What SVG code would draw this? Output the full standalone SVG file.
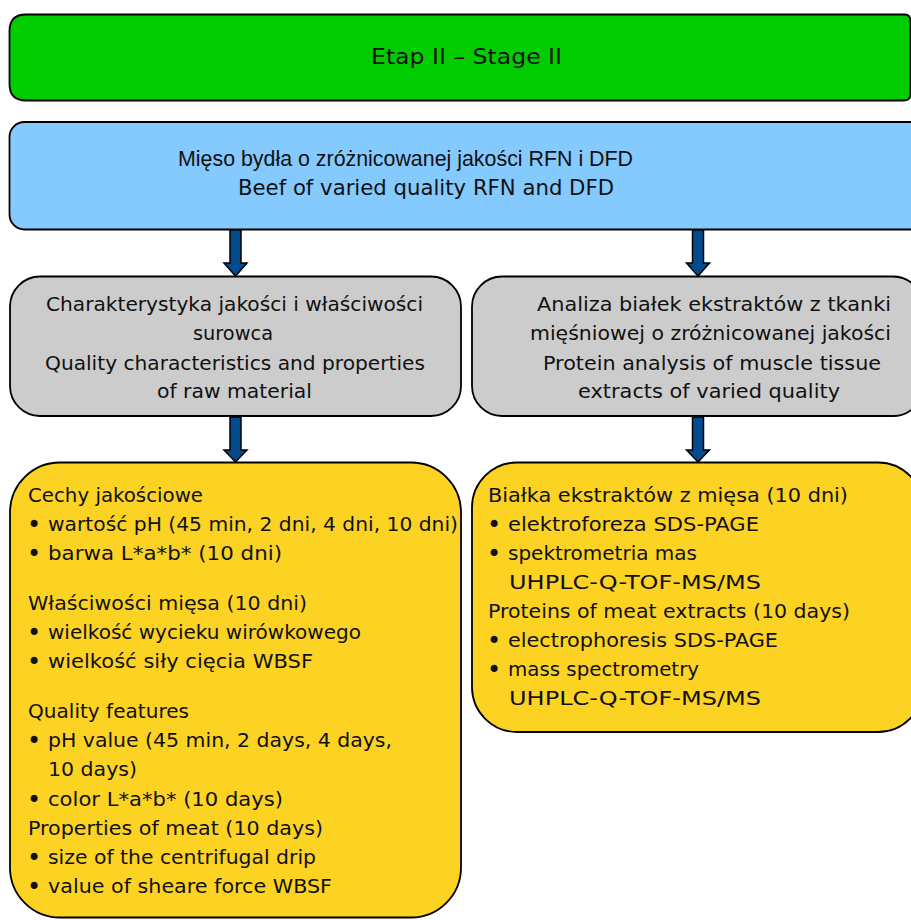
<svg xmlns="http://www.w3.org/2000/svg" width="911" height="920" viewBox="0 0 911 920">
<style>
.box{stroke:#000;stroke-width:1.8}
.green{fill:#00CC00}
.blue{fill:#84CAFE}
.gray{fill:#CCCCCC}
.yellow{fill:#FCD323}
.arrow{fill:#034B8C;stroke:#000;stroke-width:1.5;stroke-linejoin:miter}
text{font-family:"DejaVu Sans","Liberation Sans",sans-serif;font-size:20px;fill:#111}
.big{font-size:21px}
.narrow{font-family:"Liberation Sans","DejaVu Sans",sans-serif;font-size:22.5px}
.caps{font-size:19.5px}
.bul{font-size:24px}
</style>
<rect width="911" height="920" fill="#fff"/>
<g id="stage">
<path class="box green" d="M26,14.5 H904 Q910.5,14.5 910.5,21 V94 Q910.5,100.5 904,100.5 H26 Q9.5,100.5 9.5,84 V31 Q9.5,14.5 26,14.5 Z"/>
<text class="big" x="371" y="64" textLength="191" lengthAdjust="spacingAndGlyphs">Etap II – Stage II</text>
</g>
<g id="beef">
<rect class="box blue" x="9.5" y="122" width="930" height="107.5" rx="15"/>
<text class="narrow" x="178" y="166" textLength="455" lengthAdjust="spacingAndGlyphs">Mięso bydła o zróżnicowanej jakości RFN i DFD</text>
<text class="big" x="238" y="195" textLength="376" lengthAdjust="spacingAndGlyphs">Beef of varied quality RFN and DFD</text>
</g>
<g id="quality-char">
<rect class="box gray" x="10" y="276.5" width="451" height="139.5" rx="30"/>
<text x="46" y="311" textLength="377" lengthAdjust="spacingAndGlyphs">Charakterystyka jakości i właściwości</text>
<text x="193" y="340" textLength="80" lengthAdjust="spacingAndGlyphs">surowca</text>
<text x="45" y="370" textLength="380" lengthAdjust="spacingAndGlyphs">Quality characteristics and properties</text>
<text x="157" y="398" textLength="155" lengthAdjust="spacingAndGlyphs">of raw material</text>
</g>
<g id="protein-analysis">
<rect class="box gray" x="472" y="276.5" width="451" height="139.5" rx="30"/>
<text x="537" y="311" textLength="354" lengthAdjust="spacingAndGlyphs">Analiza białek ekstraktów z tkanki</text>
<text x="530" y="340" textLength="361" lengthAdjust="spacingAndGlyphs">mięśniowej o zróżnicowanej jakości</text>
<text x="543" y="370" textLength="338" lengthAdjust="spacingAndGlyphs">Protein analysis of muscle tissue</text>
<text x="578" y="398" textLength="262" lengthAdjust="spacingAndGlyphs">extracts of varied quality</text>
</g>
<g id="quality-features">
<rect class="box yellow" x="10" y="462.5" width="451" height="455" rx="50"/>
<text x="28" y="502" textLength="175" lengthAdjust="spacingAndGlyphs">Cechy jakościowe</text>
<text class="bul" x="27" y="533">•</text><text x="48" y="531" textLength="410" lengthAdjust="spacingAndGlyphs">wartość pH (45 min, 2 dni, 4 dni, 10 dni)</text>
<text class="bul" x="27" y="562">•</text><text x="48" y="560" textLength="234" lengthAdjust="spacingAndGlyphs">barwa L*a*b* (10 dni)</text>
<text x="28" y="610" textLength="279" lengthAdjust="spacingAndGlyphs">Właściwości mięsa (10 dni)</text>
<text class="bul" x="27" y="641">•</text><text x="48" y="639" textLength="313" lengthAdjust="spacingAndGlyphs">wielkość wycieku wirówkowego</text>
<text class="bul" x="27" y="670">•</text><text x="48" y="668" textLength="265" lengthAdjust="spacingAndGlyphs">wielkość siły cięcia WBSF</text>
<text x="28" y="718" textLength="161" lengthAdjust="spacingAndGlyphs">Quality features</text>
<text class="bul" x="27" y="749">•</text><text x="48" y="747" textLength="344" lengthAdjust="spacingAndGlyphs">pH value (45 min, 2 days, 4 days,</text>
<text x="48" y="776" textLength="89" lengthAdjust="spacingAndGlyphs">10 days)</text>
<text class="bul" x="27" y="808">•</text><text x="48" y="806" textLength="235" lengthAdjust="spacingAndGlyphs">color L*a*b* (10 days)</text>
<text x="28" y="835" textLength="295" lengthAdjust="spacingAndGlyphs">Properties of meat (10 days)</text>
<text class="bul" x="27" y="866">•</text><text x="48" y="864" textLength="268" lengthAdjust="spacingAndGlyphs">size of the centrifugal drip</text>
<text class="bul" x="27" y="895">•</text><text x="48" y="893" textLength="284" lengthAdjust="spacingAndGlyphs">value of sheare force WBSF</text>
</g>
<g id="proteins">
<rect class="box yellow" x="472" y="462.5" width="451" height="269.5" rx="45"/>
<text x="488" y="502" textLength="360" lengthAdjust="spacingAndGlyphs">Białka ekstraktów z mięsa (10 dni)</text>
<text class="bul" x="487" y="533">•</text><text x="508" y="531" textLength="251" lengthAdjust="spacingAndGlyphs">elektroforeza SDS-PAGE</text>
<text class="bul" x="487" y="562">•</text><text x="508" y="560" textLength="189" lengthAdjust="spacingAndGlyphs">spektrometria mas</text>
<text class="caps" x="509" y="589" textLength="252" lengthAdjust="spacingAndGlyphs">UHPLC-Q-TOF-MS/MS</text>
<text x="488" y="618" textLength="362" lengthAdjust="spacingAndGlyphs">Proteins of meat extracts (10 days)</text>
<text class="bul" x="487" y="649">•</text><text x="508" y="647" textLength="270" lengthAdjust="spacingAndGlyphs">electrophoresis SDS-PAGE</text>
<text class="bul" x="487" y="678">•</text><text x="508" y="676" textLength="191" lengthAdjust="spacingAndGlyphs">mass spectrometry</text>
<text class="caps" x="509" y="705" textLength="252" lengthAdjust="spacingAndGlyphs">UHPLC-Q-TOF-MS/MS</text>
</g>
<g id="connectors">
<path class="arrow" d="M230,230 H241 V263 H247 L235.5,276 L224,263 H230 Z"/>
<path class="arrow" d="M692.5,230 H703.5 V263 H709.5 L698,276 L686.5,263 H692.5 Z"/>
<path class="arrow" d="M230,417 H241 V450 H247 L235.5,462 L224,450 H230 Z"/>
<path class="arrow" d="M692.5,417 H703.5 V450 H709.5 L698,462 L686.5,450 H692.5 Z"/>
</g>
</svg>
